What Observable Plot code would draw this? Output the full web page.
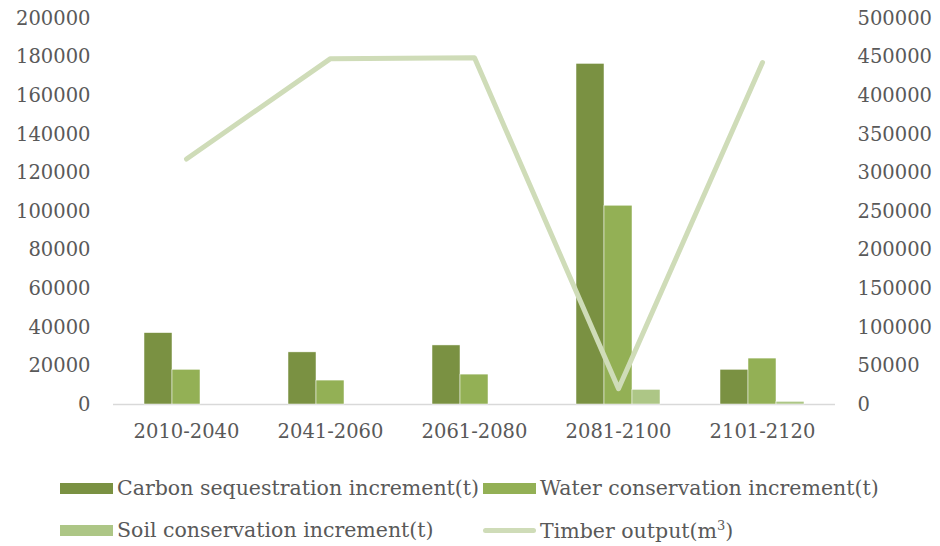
<!DOCTYPE html>
<html>
<head>
<meta charset="utf-8">
<script src="https://cdn.jsdelivr.net/npm/d3@7"></script>
<script src="https://cdn.jsdelivr.net/npm/@observablehq/plot@0.6"></script>
<style>
  body { margin: 0; background: #fff; font-family: "DejaVu Serif", serif; color: #595959; }
  #chart { width: 940px; }
  .legend { display: grid; grid-template-columns: 423px auto; grid-auto-rows: 42px; padding-left: 60px; padding-top: 12px; }
  .item { display: flex; align-items: center; font-size: 20.5px; white-space: nowrap; }
  .sw { width: 53px; height: 11px; margin-right: 4px; flex: none; }
  .ln { width: 53px; height: 5px; border-radius: 3px; margin-right: 4px; flex: none; }
</style>
</head>
<body>
<div id="chart"></div>
<script>
const periods = ["2010-2040", "2041-2060", "2061-2080", "2081-2100", "2101-2120"];
const carbon = [37000, 27000, 30600, 176500, 18000];
const water  = [18000, 12400, 15500, 103000, 23800];
const soil   = [0, 0, 0, 7600, 1400];
const timber = [318000, 448000, 449000, 20500, 443000];
const leftTicks = [0, 20000, 40000, 60000, 80000, 100000, 120000, 140000, 160000, 180000, 200000];
const rightTicks = [0, 50000, 100000, 150000, 200000, 250000, 300000, 350000, 400000, 450000, 500000];
const seriesNames = ["Carbon sequestration increment(t)", "Water conservation increment(t)", "Soil conservation increment(t)", "Timber output(m³)"];
const colors = ["#7a9142", "#93b055", "#adc686", "#cfdcb8"];

const leftMax = 200000, rightMax = 500000;
const ratio = leftMax / rightMax;

const rows = periods.map((p, i) => ({period: p, carbon: carbon[i], water: water[i], soil: soil[i], timber: timber[i]}));

const fontSize = 19.5;
const plot = Plot.plot({
  width: 940,
  height: 455,
  marginLeft: 113,
  marginRight: 105,
  marginTop: 18,
  marginBottom: 51,
  style: {fontFamily: "DejaVu Serif", fontSize: fontSize + "px", color: "#595959", background: "#fff"},
  x: {type: "band", domain: periods, paddingInner: 0.806, paddingOuter: 0.403},
  y: {domain: [0, leftMax]},
  marks: [
    Plot.axisX({tickSize: 0, tickPadding: 20, fontSize, label: null}),
    Plot.axisY(leftTicks, {anchor: "left", tickSize: 0, tickPadding: 23, fontSize, label: null, tickFormat: d3.format("d")}),
    Plot.axisY(rightTicks.map(v => v * ratio), {anchor: "right", tickSize: 0, tickPadding: 22, fontSize, label: null, tickFormat: d => d3.format("d")(Math.round(d / ratio))}),
    Plot.ruleY([0], {stroke: "#d9d9d9", strokeWidth: 1.5}),
    Plot.barY(rows, {x: "period", y: "carbon", fill: colors[0], dx: -28, stroke: "#fff", strokeWidth: 0.5}),
    Plot.barY(rows, {x: "period", y: "water", fill: colors[1], stroke: "#fff", strokeWidth: 0.5}),
    Plot.barY(rows, {x: "period", y: "soil", fill: colors[2], dx: 28, stroke: "#fff", strokeWidth: 0.5}),
    Plot.line(rows, {x: "period", y: d => d.timber * ratio, stroke: colors[3], strokeWidth: 5, strokeLinejoin: "round", strokeLinecap: "round"})
  ]
});
document.getElementById("chart").append(plot);

const legend = document.createElement("div");
legend.className = "legend";
seriesNames.forEach((name, i) => {
  const item = document.createElement("div");
  item.className = "item";
  const sw = document.createElement("span");
  sw.className = i === 3 ? "ln" : "sw";
  sw.style.background = colors[i];
  const t = document.createElement("span");
  if (i === 3) {
    t.innerHTML = "Timber output(m<sup style='font-size:13px'>3</sup>)";
  } else {
    t.textContent = name;
  }
  item.append(sw, t);
  legend.append(item);
});
document.getElementById("chart").append(legend);
</script>
</body>
</html>
